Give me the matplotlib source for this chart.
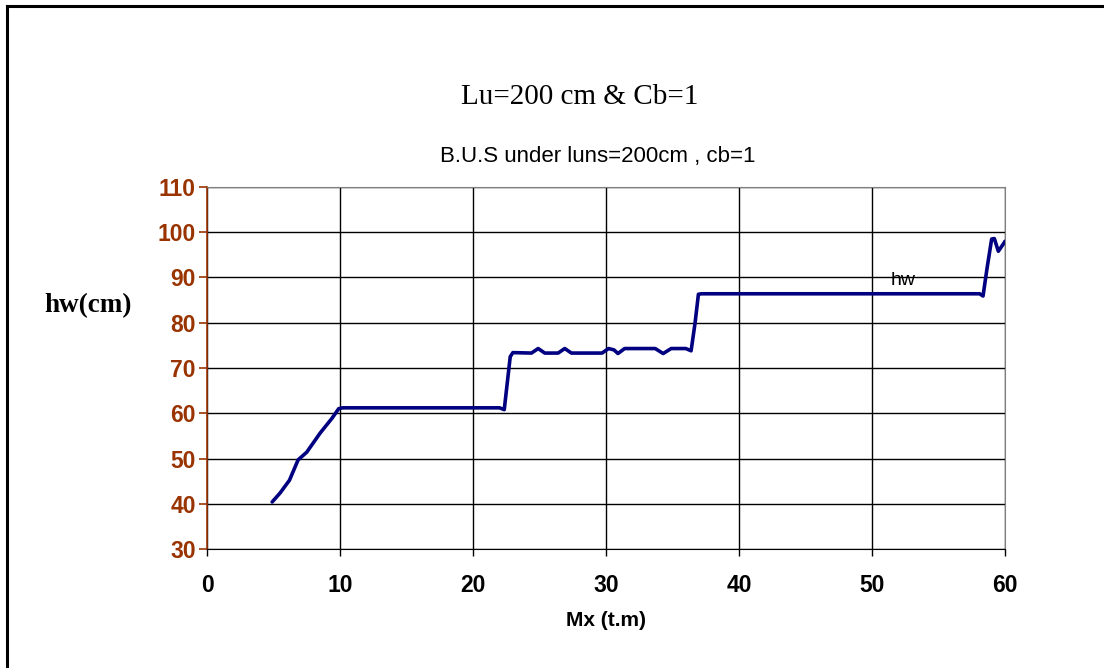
import matplotlib
matplotlib.use('Agg')
import matplotlib.pyplot as plt
import matplotlib.patches as patches
from matplotlib.lines import Line2D

# data
mx = [4.9, 5.5, 6.2, 6.85, 7.5, 8.5, 9.4, 9.9, 10.2,
      22.0, 22.35, 22.55, 22.8, 23.0,
      24.4, 24.9, 25.4, 26.4, 26.9, 27.4,
      29.7, 30.2, 30.6, 30.9, 31.4,
      33.7, 34.3, 34.9, 36.0, 36.4, 36.7, 36.95, 37.2,
      58.1, 58.35, 58.65, 59.0, 59.2, 59.5, 59.9, 60.0]
hw = [40.4, 42.4, 45.2, 49.7, 51.4, 55.6, 58.9, 61.0, 61.2,
      61.2, 60.8, 66.0, 72.5, 73.4,
      73.3, 74.3, 73.3, 73.3, 74.3, 73.3,
      73.3, 74.3, 74.0, 73.2, 74.3,
      74.3, 73.2, 74.3, 74.3, 73.8, 80.0, 86.3, 86.4,
      86.4, 85.9, 92.0, 98.5, 98.6, 95.8, 97.5, 98.0]

xticks = [0, 10, 20, 30, 40, 50, 60]
yticks = [30, 40, 50, 60, 70, 80, 90, 100, 110]

brown = '#993300'

fig = plt.figure(figsize=(11.04, 6.68), dpi=100)
ax = fig.add_axes([0.1875, 0.1781, 0.7228, 0.542])

ax.plot(mx, hw, color='#000080', linewidth=2.6, solid_joinstyle='round',
        solid_capstyle='round', zorder=5)

ax.set_xlim(0, 60)
ax.set_ylim(30, 110)
ax.set_xticks(xticks)
ax.set_yticks(yticks)
ax.grid(True, color='black', linewidth=1.0)
ax.set_axisbelow(True)

ax.spines['left'].set_color(brown)
ax.spines['left'].set_linewidth(1.2)
ax.spines['top'].set_color('#808080')
ax.spines['right'].set_color('#808080')
ax.spines['bottom'].set_color('black')
for s in ax.spines.values():
    s.set_zorder(6)

ax.tick_params(axis='y', colors=brown, length=6, width=1.2, direction='out', pad=2)
ax.tick_params(axis='x', colors='black', length=5, width=1.0, direction='out', pad=13)
for lbl in ax.get_yticklabels():
    lbl.set_fontfamily('Liberation Sans')
    lbl.set_fontweight('bold')
    lbl.set_fontsize(16.5)
    lbl.set_color(brown)
for lbl in ax.get_xticklabels():
    lbl.set_fontfamily('Liberation Sans')
    lbl.set_fontweight('bold')
    lbl.set_fontsize(16.5)

ax.set_xlabel('Mx (t.m)', fontfamily='Liberation Sans', fontweight='bold',
              fontsize=15, labelpad=10)

# y label, horizontal, to the left of the tick labels
fig.text(88 / 1104, 1 - 306 / 668, 'hw(cm)', fontfamily='Liberation Serif',
         fontweight='bold', fontsize=19.5, ha='center', va='center')

# titles
fig.text(580 / 1104, 1 - 97 / 668, 'Lu=200 cm & Cb=1', fontfamily='Liberation Serif',
         fontsize=21, ha='center', va='center')
fig.text(598 / 1104, 1 - 157 / 668, 'B.U.S under luns=200cm , cb=1',
         fontfamily='Liberation Sans', fontsize=16, ha='center', va='center')

# series label, bottom part hidden just under the 90 gridline
t = ax.text(51.4, 88.3, 'hw', fontfamily='Liberation Sans', fontsize=14,
            ha='left', va='baseline', zorder=1)
clip = patches.Rectangle((45, 89.4), 15, 20, transform=ax.transData)
t.set_clip_path(clip)

# outer border (left and top edges visible)
fig.add_artist(Line2D([6.5 / 1104, 6.5 / 1104], [0, 1 - 5.5 / 668],
                      color='black', linewidth=2.2, transform=fig.transFigure))
fig.add_artist(Line2D([6.5 / 1104, 1], [1 - 5.5 / 668, 1 - 5.5 / 668],
                      color='black', linewidth=2.2, transform=fig.transFigure))

fig.savefig('out.png', dpi=100, facecolor='white')
